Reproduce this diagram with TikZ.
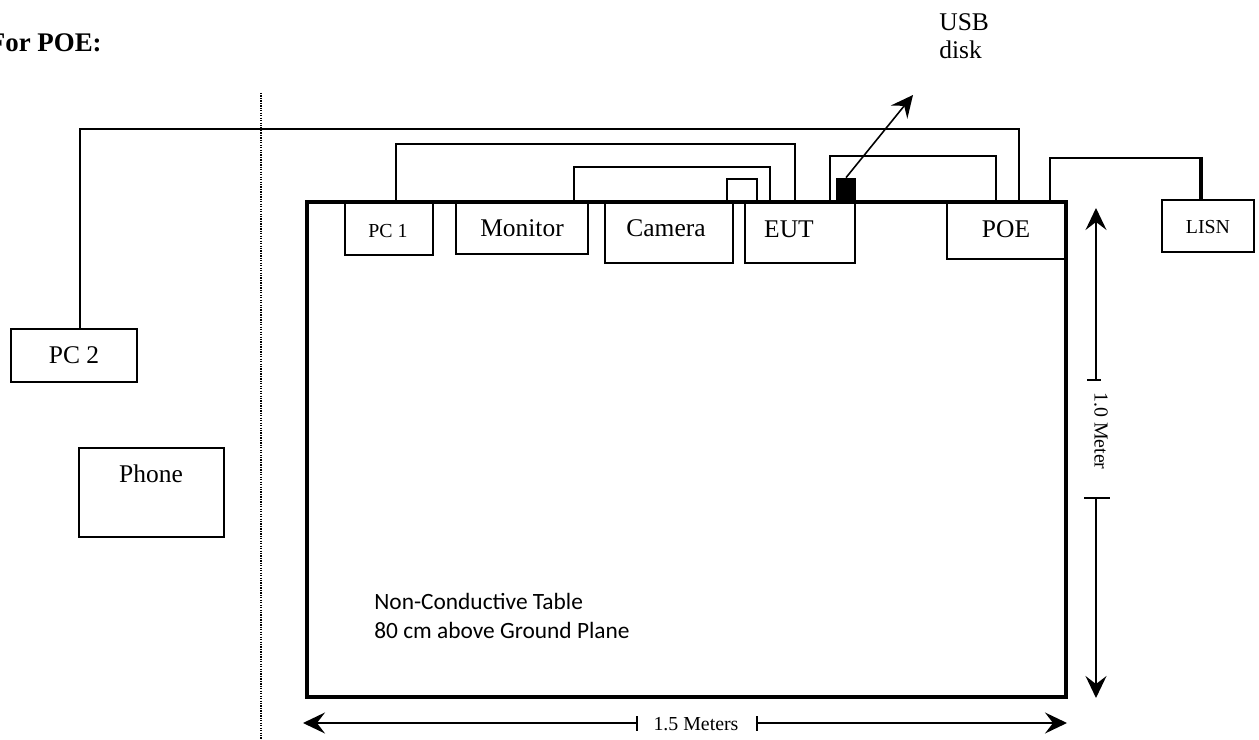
\documentclass[tikz,border=0pt]{standalone}
\usepackage{fontspec}
\setmainfont{Liberation Serif}
\newfontfamily\calfont{Carlito}
\usetikzlibrary{arrows.meta,fit}
\begin{document}
\begin{tikzpicture}[x=0.02cm,y=-0.02cm,
  box/.style={draw,line width=1.1pt,inner sep=0pt},
  big/.style={font=\fontsize{14.5pt}{17pt}\selectfont,inner sep=0pt,anchor=base},
  small/.style={font=\fontsize{11.3pt}{13pt}\selectfont,inner sep=0pt,anchor=base},
  note/.style={font=\calfont\fontsize{13.3pt}{15pt}\selectfont,inner sep=0pt,anchor=base west},
  cable/.style={line width=1.1pt},
  dim/.style={line width=0.9pt},
  tip/.style={-{Stealth[length=4.4mm,width=4.2mm,inset=1.6mm]}}]
\useasboundingbox (0,0) rectangle (1259,740);

% title
\node[font=\bfseries\fontsize{15.3pt}{18pt}\selectfont,inner sep=0pt,anchor=base east] (title) at (102,52) {For POE:};

% dotted separation line
\coordinate (dtop) at (261,93);
\coordinate (dbot) at (261,740);
\draw[line width=0.7pt,dash pattern=on 0.7pt off 0.7pt] (dtop) -- (dbot);

% table
\node[fit={(307,202) (1066,697)},draw,line width=2.2pt,inner sep=0pt] (table) {};

% boxes
\node[box,fit={(345,203) (433,255)}] (pc1) {};
\node[small] (pc1t) at (388,237) {PC 1};
\node[box,fit={(456,203) (588,254)}] (mon) {};
\node[big] (mont) at (522,236) {Monitor};
\node[box,fit={(605,203) (733,263)}] (cam) {};
\node[big] (camt) at (666,236) {Camera};
\node[box,fit={(745,203) (855,263)}] (eut) {};
\node[big] (eutt) at (789,237) {EUT};
\node[box,fit={(947,203) (1066,259)}] (poe) {};
\node[big] (poet) at (1006,237) {POE};
\node[box,fit={(1162,200) (1254,252)}] (lisn) {};
\node[small] (lisnt) at (1208,234) {LISN};
\node[box,fit={(11,329) (137,382)}] (pc2) {};
\node[big] (pc2t) at (74,363) {PC 2};
\node[box,fit={(79,448) (224,537)}] (phone) {};
\node[big] (phonet) at (151,482) {Phone};

% cables
\draw[cable] (pc2.north -| 80,0) |- (1019,129) -- (poe.north -| 1019,0);
\draw[cable] (pc1.north -| 396,0) |- (795,144) -- (eut.north -| 795,0);
\draw[cable] (mon.north -| 574,0) |- (770,167) -- (eut.north -| 770,0);
\draw[cable] (cam.north -| 727,0) |- (757,179) -- (eut.north -| 757,0);
\draw[cable] (eut.north -| 830,0) |- (996,156) -- (poe.north -| 996,0);
\draw[cable] (poe.north -| 1050,0) |- (1201,158);
\draw[line width=1.8pt] (1201,157) -- (lisn.north -| 1201,0);

% USB disk
\node[fill=black,inner sep=0pt,fit={(836,178) (856,203)}] (usb) {};
\node[big,anchor=base west] (usbt1) at (939,31) {USB};
\node[big,anchor=base west] (usbt2) at (939,59) {disk};
\coordinate (usbend) at (913,95);
\draw[dim,tip] (usb.north) -- (usbend);

% 1.0 Meter dimension
\coordinate (vtop) at (1096,208);
\coordinate (vbot) at (1096,698);
\coordinate (vt1) at (1096,380);
\coordinate (vt2) at (1096,498);
\draw[dim,tip] (vt1) -- (vtop);
\draw[dim,tip] (vt2) -- (vbot);
\draw[dim] (1087,380) -- (1101,380);
\draw[dim] (1084,498) -- (1110,498);
\node[small,anchor=center,rotate=-90] (vlab) at (1101,431) {1.0 Meter};

% 1.5 Meters dimension
\coordinate (hl) at (303,723);
\coordinate (hr) at (1067,723);
\coordinate (ht1) at (637,723);
\coordinate (ht2) at (757,723);
\draw[dim,tip] (ht1) -- (hl);
\draw[dim,tip] (ht2) -- (hr);
\draw[dim] (637,716) -- (637,731);
\draw[dim] (757,716) -- (757,731);
\node[small] (hlab) at (696,730) {1.5 Meters};

% table note
\node[note] (n1) at (374,609) {Non-Conductive Table};
\node[note] (n2) at (374,638) {80 cm above Ground Plane};
\end{tikzpicture}
\end{document}
